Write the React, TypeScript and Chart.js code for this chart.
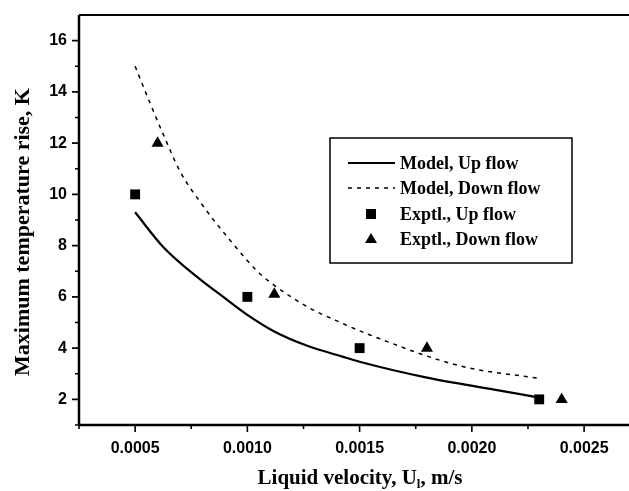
import React, { useEffect, useRef } from 'react';
import { Chart, registerables } from 'chart.js';

Chart.register(...registerables);

// ---- data ----
const modelUpX = [0.0005, 0.000625, 0.00078, 0.0009, 0.001, 0.00112, 0.00127, 0.00142, 0.0015, 0.0018, 0.0021, 0.0023];
const modelUpY = [9.3, 7.95, 6.75, 5.95, 5.3, 4.65, 4.08, 3.68, 3.47, 2.85, 2.38, 2.07];

const modelDownX = [0.0005, 0.000567, 0.000625, 0.0007, 0.00079, 0.000924, 0.00105, 0.00112, 0.00127, 0.00142, 0.00155, 0.00195, 0.0023];
const modelDownY = [15.0, 13.55, 12.35, 10.9, 9.7, 8.2, 6.95, 6.45, 5.6, 4.98, 4.5, 3.3, 2.82];

const exptUpX = [0.0005, 0.001, 0.0015, 0.0023];
const exptUpY = [10, 6, 4, 2];

const exptDownX = [0.0006, 0.00112, 0.0018, 0.0024];
const exptDownY = [12, 6.1, 4, 2];

const xTicks = [0.0005, 0.001, 0.0015, 0.002, 0.0025];
const xTickLabels = ['0.0005', '0.0010', '0.0015', '0.0020', '0.0025'];
const xMinorTicks = [0.00025, 0.00075, 0.00125, 0.00175, 0.00225];
const yTicks = [2, 4, 6, 8, 10, 12, 14, 16];
const yTickLabels = ['2', '4', '6', '8', '10', '12', '14', '16'];
const yMinorTicks = [1, 3, 5, 7, 9, 11, 13, 15];

const seriesLabels = ['Model, Up flow', 'Model, Down flow', 'Exptl., Up flow', 'Exptl., Down flow'];
const xTitleMain = 'Liquid velocity, U';
const xTitleSub = 'l';
const xTitleTail = ', m/s';
const yTitle = 'Maximum temperature rise, K';

const pts = (xs: number[], ys: number[]) => xs.map((x, i) => ({ x, y: ys[i] }));

const SERIF = '"Liberation Serif", "Times New Roman", serif';
const SANS = '"Liberation Sans", Arial, sans-serif';

const decorPlugin = {
  id: 'decor',
  afterDraw(chart: any) {
    const { ctx, chartArea: a, scales } = chart;
    const x = scales.x;
    const y = scales.y;
    ctx.save();
    ctx.strokeStyle = '#000';
    ctx.fillStyle = '#000';
    ctx.lineCap = 'butt';

    // axes
    ctx.lineWidth = 2.5;
    ctx.beginPath();
    ctx.moveTo(a.left, a.bottom);
    ctx.lineTo(a.right, a.bottom);
    ctx.moveTo(a.left, a.bottom + 1);
    ctx.lineTo(a.left, a.top);
    ctx.stroke();
    ctx.lineWidth = 2;
    ctx.beginPath();
    ctx.moveTo(a.left, a.top);
    ctx.lineTo(a.right, a.top);
    ctx.stroke();

    // ticks
    ctx.lineWidth = 1.6;
    ctx.beginPath();
    xTicks.forEach((v) => {
      const px = x.getPixelForValue(v);
      ctx.moveTo(px, a.bottom);
      ctx.lineTo(px, a.bottom + 7);
    });
    xMinorTicks.forEach((v) => {
      const px = x.getPixelForValue(v);
      ctx.moveTo(px, a.bottom);
      ctx.lineTo(px, a.bottom + 4);
    });
    yTicks.forEach((v) => {
      const py = y.getPixelForValue(v);
      ctx.moveTo(a.left, py);
      ctx.lineTo(a.left - 7, py);
    });
    yMinorTicks.forEach((v) => {
      const py = y.getPixelForValue(v);
      ctx.moveTo(a.left, py);
      ctx.lineTo(a.left - 4, py);
    });
    ctx.stroke();

    // x title with subscript
    const mainFont = `bold 21px ${SERIF}`;
    const subFont = `bold 13px ${SERIF}`;
    ctx.font = mainFont;
    const w1 = ctx.measureText(xTitleMain).width;
    const w3 = ctx.measureText(xTitleTail).width;
    ctx.font = subFont;
    const w2 = ctx.measureText(xTitleSub).width;
    const total = w1 + w2 + w3;
    const cx = 360;
    let tx = cx - total / 2;
    const ty = 484;
    ctx.textAlign = 'left';
    ctx.textBaseline = 'alphabetic';
    ctx.font = mainFont;
    ctx.fillText(xTitleMain, tx, ty);
    tx += w1;
    ctx.font = subFont;
    ctx.fillText(xTitleSub, tx, ty + 4);
    tx += w2;
    ctx.font = mainFont;
    ctx.fillText(xTitleTail, tx, ty);

    // y title
    ctx.save();
    ctx.translate(23, 232);
    ctx.rotate(-Math.PI / 2);
    ctx.font = `bold 22px ${SERIF}`;
    ctx.textAlign = 'center';
    ctx.textBaseline = 'middle';
    ctx.fillText(yTitle, 0, 0);
    ctx.restore();

    // legend
    const lx = 330, ly = 138, lw = 242, lh = 125;
    ctx.lineWidth = 1.5;
    ctx.strokeRect(lx, ly, lw, lh);
    const rows = [163, 188, 214, 239];
    ctx.font = `bold 18px ${SERIF}`;
    ctx.textAlign = 'left';
    ctx.textBaseline = 'middle';
    chart.data.datasets.forEach((ds: any, i: number) => {
      const ry = rows[i];
      if (ds.showLine) {
        ctx.lineWidth = ds.borderWidth;
        ctx.setLineDash(ds.borderDash || []);
        ctx.beginPath();
        ctx.moveTo(348, ry);
        ctx.lineTo(395, ry);
        ctx.stroke();
        ctx.setLineDash([]);
      } else {
        ctx.beginPath();
        if (ds.pointStyle === 'rect') {
          ctx.rect(371 - 5, ry - 5, 10, 10);
        } else {
          ctx.moveTo(371, ry - 6);
          ctx.lineTo(371 + 6, ry + 4);
          ctx.lineTo(371 - 6, ry + 4);
          ctx.closePath();
        }
        ctx.fill();
      }
      ctx.fillText(ds.label, 400, ry + 1);
    });
    ctx.restore();
  },
};

const zeroPad = (s: any) => {
  s.paddingLeft = 0;
  s.paddingRight = 0;
  s.paddingTop = 0;
  s.paddingBottom = 0;
};

export default function App() {
  const ref = useRef<HTMLCanvasElement | null>(null);
  useEffect(() => {
    if (!ref.current) return;
    const chart = new Chart(ref.current, {
      type: 'scatter',
      data: {
        datasets: [
          {
            label: seriesLabels[0],
            data: pts(modelUpX, modelUpY),
            showLine: true,
            borderColor: '#000',
            borderWidth: 2.2,
            pointRadius: 0,
            cubicInterpolationMode: 'monotone',
          },
          {
            label: seriesLabels[1],
            data: pts(modelDownX, modelDownY),
            showLine: true,
            borderColor: '#000',
            borderWidth: 1.5,
            borderDash: [4, 5],
            pointRadius: 0,
            cubicInterpolationMode: 'monotone',
          },
          {
            label: seriesLabels[2],
            data: pts(exptUpX, exptUpY),
            showLine: false,
            pointStyle: 'rect',
            pointRadius: 7,
            backgroundColor: '#000',
            borderColor: '#000',
            borderWidth: 0,
          },
          {
            label: seriesLabels[3],
            data: pts(exptDownX, exptDownY),
            showLine: false,
            pointStyle: 'triangle',
            pointRadius: 7,
            backgroundColor: '#000',
            borderColor: '#000',
            borderWidth: 0,
          },
        ],
      } as any,
      options: {
        animation: false,
        responsive: false,
        devicePixelRatio: 1,
        layout: { autoPadding: false, padding: { top: 15, right: 0, left: 0, bottom: 0 } },
        plugins: { legend: { display: false }, tooltip: { enabled: false } },
        scales: {
          x: {
            type: 'linear',
            min: 0.00025,
            max: 0.0027,
            grid: { display: false, drawTicks: false },
            border: { display: false },
            afterBuildTicks: (s: any) => {
              s.ticks = xTicks.map((v) => ({ value: v }));
            },
            afterFit: (s: any) => {
              s.height = 66;
              zeroPad(s);
            },
            ticks: {
              autoSkip: false,
              maxRotation: 0,
              padding: 14,
              color: '#000',
              font: { family: SANS, size: 16, weight: 'bold' },
              callback: (_v: any, i: number) => xTickLabels[i],
            },
          },
          y: {
            type: 'linear',
            min: 1,
            max: 17,
            grid: { display: false, drawTicks: false },
            border: { display: false },
            afterBuildTicks: (s: any) => {
              s.ticks = yTicks.map((v) => ({ value: v }));
            },
            afterFit: (s: any) => {
              s.width = 79;
              zeroPad(s);
            },
            ticks: {
              autoSkip: false,
              padding: 12,
              color: '#000',
              font: { family: SANS, size: 16, weight: 'bold' },
              callback: (_v: any, i: number) => yTickLabels[i],
            },
          },
        },
      } as any,
      plugins: [decorPlugin],
    });
    return () => chart.destroy();
  }, []);

  return (
    <div style={{ position: 'absolute', left: 0, top: 0, width: 629, height: 491, background: '#fff', overflow: 'hidden' }}>
      <canvas ref={ref} width={629} height={491} style={{ display: 'block', width: 629, height: 491 }} />
    </div>
  );
}
